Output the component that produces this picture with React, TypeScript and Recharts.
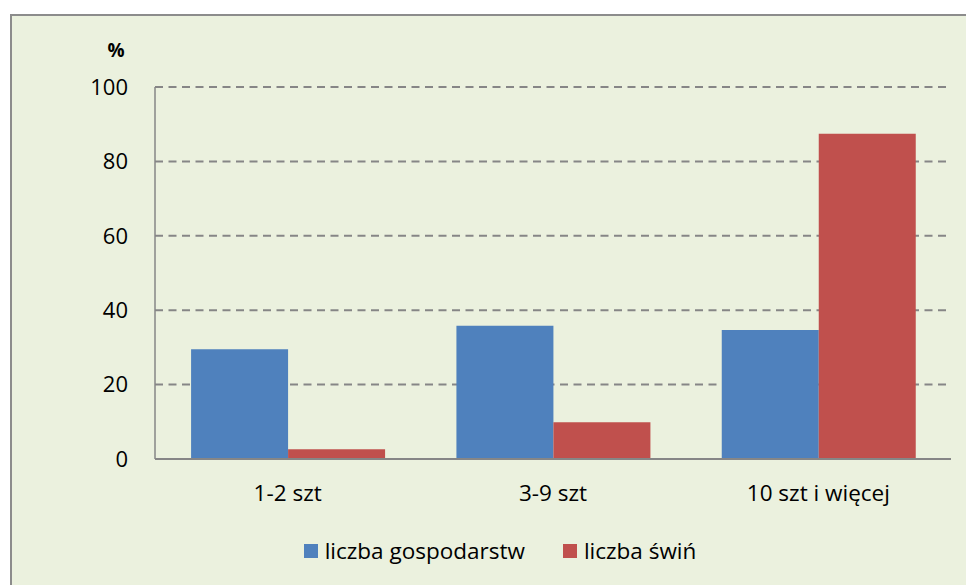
import { BarChart, Bar, XAxis, YAxis, CartesianGrid, Legend } from "recharts";

const categories = ["1-2 szt", "3-9 szt", "10 szt i więcej"];
const gospodarstwa = [29.5, 35.8, 34.7];
const swinie = [2.6, 9.9, 87.4];
const yTicks = [0, 20, 40, 60, 80, 100];

const data = categories.map((name, i) => ({
  name,
  gospodarstwa: gospodarstwa[i],
  swinie: swinie[i],
}));

const FONT = "'Open Sans', Lato, sans-serif";

// legend drawn in Excel style: small squares, wide gap between entries
// eslint-disable-next-line @typescript-eslint/no-explicit-any
const LegendContent = ({ payload }: { payload?: any[] }) => (
  <div
    style={{
      display: "flex",
      justifyContent: "center",
      alignItems: "center",
      fontFamily: FONT,
      fontSize: 22.5,
      color: "#000",
      paddingLeft: 34,
    }}
  >
    {(payload || []).map((entry, i) => (
      <div key={i} style={{ display: "flex", alignItems: "center", marginRight: i === 0 ? 38 : 0 }}>
        <span style={{ width: 14, height: 14, background: entry.color, marginRight: 7, display: "inline-block" }} />
        <span>{entry.value}</span>
      </div>
    ))}
  </div>
);

export default function App() {
  return (
    <div
      style={{
        position: "absolute",
        top: 0,
        left: 0,
        width: 966,
        height: 585,
        background: "#fff",
        overflow: "hidden",
      }}
    >
      <div
        style={{
          position: "absolute",
          left: 10,
          top: 14,
          width: 980,
          height: 600,
          background: "#EBF1DE",
          border: "2px solid #8c8c8c",
        }}
      />
      <div style={{ position: "absolute", left: 0, top: 0 }}>
        <BarChart
          width={966}
          height={585}
          data={data}
          margin={{ top: 87, right: 15, left: 95, bottom: 96 }}
          barCategoryGap="13.6%"
          barGap={0}
        >
          <CartesianGrid
            vertical={false}
            stroke="#868686"
            strokeWidth={2}
            strokeDasharray="8 5.5"
            horizontalValues={[20, 40, 60, 80, 100]}
          />
          <XAxis
            dataKey="name"
            height={30}
            tickSize={0}
            tickMargin={26}
            axisLine={{ stroke: "#868686", strokeWidth: 2 }}
            tick={{ fill: "#000", fontFamily: FONT, fontSize: 22.5 }}
          />
          <YAxis
            width={60}
            domain={[0, 100]}
            ticks={yTicks}
            tickSize={0}
            tickMargin={27}
            axisLine={{ stroke: "#868686", strokeWidth: 1.5 }}
            tick={{ fill: "#000", fontFamily: FONT, fontSize: 22 }}
            label={{
              content: () => (
                <text x={116} y={57} textAnchor="middle" fontFamily={FONT} fontSize={19} fontWeight="bold" fill="#000">
                  %
                </text>
              ),
            }}
          />
          <Legend
            verticalAlign="middle"
            align="center"
            wrapperStyle={{ top: 535, left: 0, width: 966 }}
            content={LegendContent}
          />
          <Bar dataKey="gospodarstwa" name="liczba gospodarstw" fill="#4F81BD" isAnimationActive={false} />
          <Bar dataKey="swinie" name="liczba świń" fill="#C0504D" isAnimationActive={false} />
        </BarChart>
      </div>
    </div>
  );
}
